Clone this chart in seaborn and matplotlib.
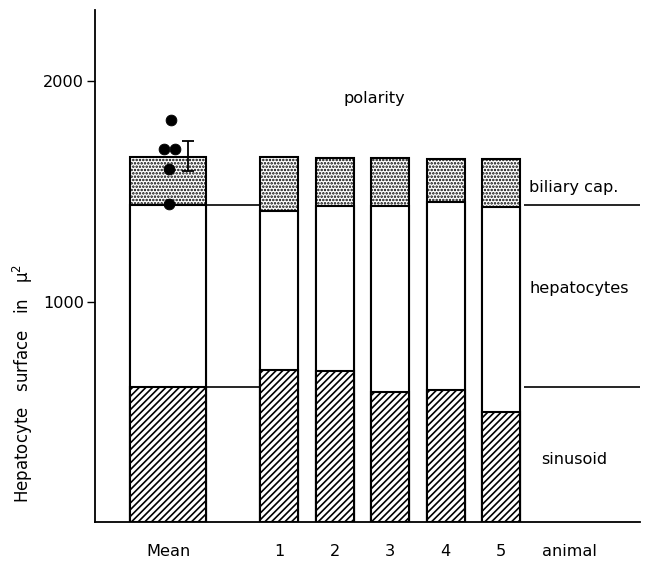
import matplotlib
matplotlib.use("Agg")
import matplotlib.pyplot as plt
import seaborn as sns
import pandas as pd

# values (surface in µ^2, cumulative tops of each layer)
animals = [1, 2, 3, 4, 5]
sinusoid_top = [691, 686, 588, 600, 500]
hepatocyte_top = [1409, 1436, 1436, 1450, 1429]
biliary_top = [1655, 1650, 1650, 1648, 1645]

mean_sinusoid_top = 613
mean_hepatocyte_top = 1437
mean_biliary_top = 1655

dot_values = [1823, 1694, 1694, 1603, 1441]
dot_offsets = [0.045, -0.076, 0.117, 0.01, 0.01]
err_center = 1660
err_half = 68

sns.set_theme(style="ticks")
plt.rcParams["font.family"] = ["DejaVu Sans"]
plt.rcParams["hatch.linewidth"] = 1.2
plt.rcParams["text.color"] = "black"
plt.rcParams["xtick.color"] = "black"
plt.rcParams["ytick.color"] = "black"
plt.rcParams["axes.labelcolor"] = "black"

fig = plt.figure(figsize=(6.58, 5.66), dpi=100)
ax = fig.add_axes([0.1444, 0.0777, 0.828, 0.9046])

df = pd.DataFrame({"animal": animals, "sinusoid": sinusoid_top,
                   "hepatocytes": hepatocyte_top, "biliary": biliary_top})

# stacked bars for the animals: draw tallest layer first
layers = [("biliary", "....."), ("hepatocytes", ""), ("sinusoid", "/////")]
for col, hatch in layers:
    sns.barplot(data=df, x="animal", y=col, native_scale=True, orient="x",
                width=0.68, color="white", edgecolor="black", linewidth=1.5,
                hatch=hatch, ax=ax, errorbar=None)

# mean bar (wider)
mean_x = -1
for val, hatch in [(mean_biliary_top, "....."), (mean_hepatocyte_top, ""),
                   (mean_sinusoid_top, "/////")]:
    ax.bar(mean_x, val, width=1.37, color="white", edgecolor="black",
           linewidth=1.5, hatch=hatch, zorder=2)

# reference lines for the means
for val in [mean_hepatocyte_top, mean_sinusoid_top]:
    ax.hlines(val, -0.32, 0.64, color="black", linewidth=1.2)
    ax.hlines(val, 5.42, 7.5, color="black", linewidth=1.2)

# individual animals and error bar
sns.scatterplot(x=[mean_x + o for o in dot_offsets], y=dot_values, ax=ax,
                color="black", s=60, edgecolor="black", zorder=5, legend=False)
ax.errorbar(-0.65, err_center, yerr=err_half, color="black", capsize=4,
            linewidth=1.3, capthick=1.3, zorder=5)

fs = 11.6
ax.text(2.72, 1923, "polarity", ha="center", va="center", fontsize=fs)
ax.text(6.31, 1518, "biliary cap.", ha="center", va="center", fontsize=fs)
ax.text(6.41, 1059, "hepatocytes", ha="center", va="center", fontsize=fs)
ax.text(6.31, 282, "sinusoid", ha="center", va="center", fontsize=fs)

ax.set_xlim(-2.32, 7.5)
ax.set_ylim(0, 2323)
ax.set_yticks([1000, 2000])
ax.set_yticklabels(["1000", "2000"], fontsize=fs)
ax.set_xticks([-1, 1, 2, 3, 4, 5, 6.23])
ax.set_xticklabels(["Mean", "1", "2", "3", "4", "5", "animal"], fontsize=fs)
ax.tick_params(axis="x", length=0, pad=16)
ax.tick_params(axis="y", length=6, width=1, direction="out", pad=2)
ax.set_xlabel("")
ax.set_ylabel(r"Hepatocyte   surface   in   $\mathregular{\mu^2}$", fontsize=12)
ax.yaxis.set_label_coords(-0.11, 0.27)
for s in ["top", "right"]:
    ax.spines[s].set_visible(False)
for s in ["left", "bottom"]:
    ax.spines[s].set_linewidth(1.3)
    ax.spines[s].set_color("black")

fig.savefig("out.png", dpi=100)
